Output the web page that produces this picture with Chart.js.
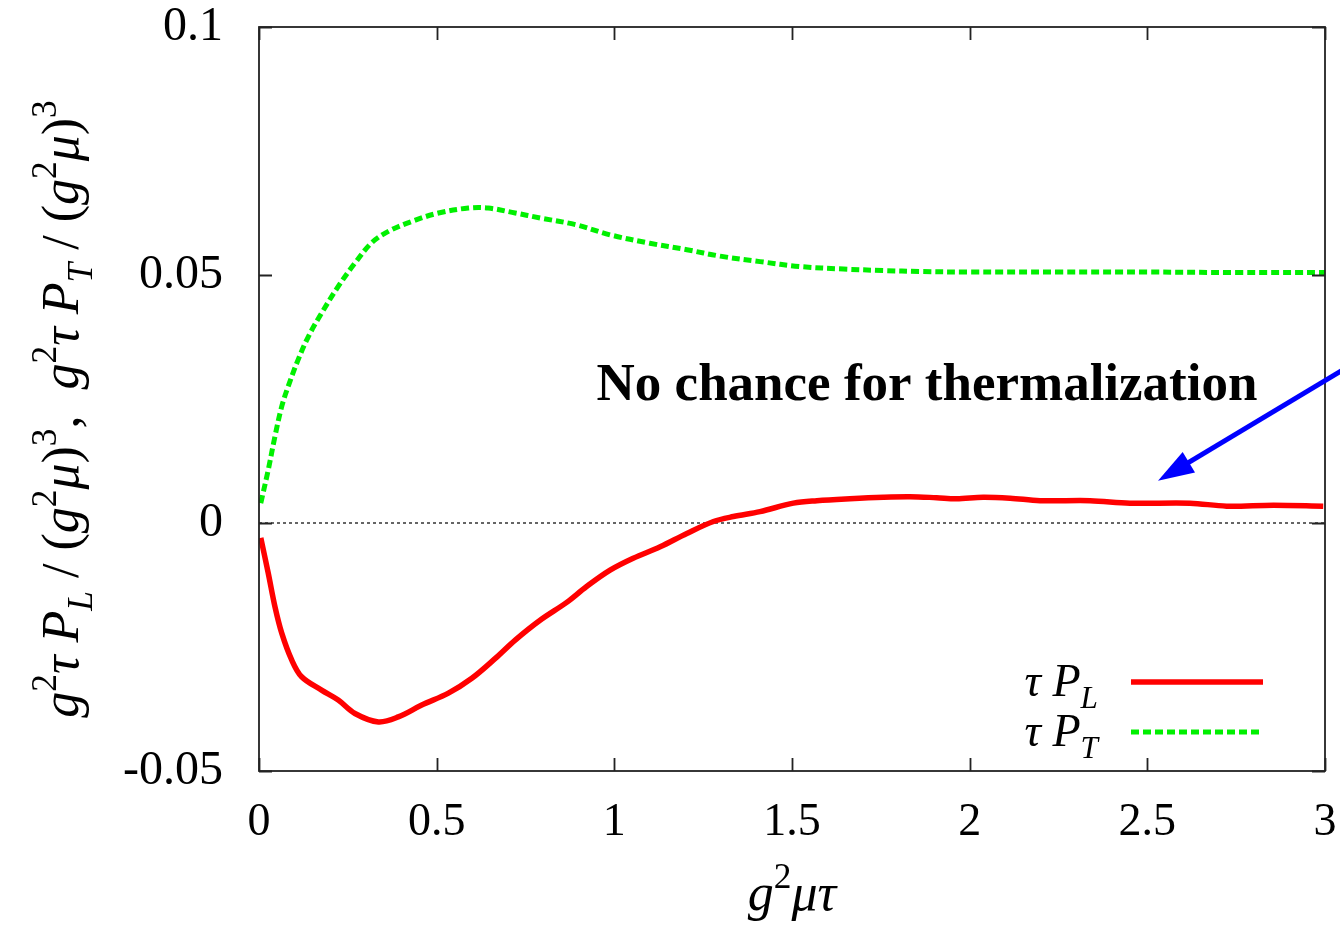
<!DOCTYPE html>
<html>
<head>
<meta charset="utf-8">
<script src="https://cdn.jsdelivr.net/npm/chart.js@4/dist/chart.umd.min.js"></script>
<style>
  html, body { margin: 0; padding: 0; background: #fff; }
  canvas { display: block; }
</style>
</head>
<body>
<canvas id="c" width="1340" height="928"></canvas>
<script>
// Longitudinal pressure  g^2 tau P_L / (g^2 mu)^3
const tauL = [0.005, 0.026, 0.045, 0.064, 0.092, 0.120, 0.176, 0.223, 0.270, 0.336,
              0.392, 0.458, 0.533, 0.599, 0.665, 0.721, 0.791, 0.866, 0.922, 0.988,
              1.053, 1.129, 1.204, 1.279, 1.335, 1.410, 1.504, 1.570, 1.663, 1.757,
              1.832, 1.907, 1.963, 2.038, 2.114, 2.198, 2.339, 2.451, 2.620, 2.723,
              2.855, 2.995];
const pL   = [-0.0030, -0.0101, -0.0169, -0.0222, -0.0276, -0.0310, -0.0337, -0.0357, -0.0384, -0.0401,
              -0.0391, -0.0367, -0.0343, -0.0313, -0.0273, -0.0236, -0.0196, -0.0160, -0.0128, -0.0095,
              -0.0071, -0.0048, -0.0021, 0.0003, 0.0013, 0.0023, 0.0040, 0.0045, 0.0049, 0.0052,
              0.0053, 0.0051, 0.0049, 0.0052, 0.0050, 0.0045, 0.0045, 0.0040, 0.0040, 0.0034,
              0.0036, 0.0034];

// Transverse pressure  g^2 tau P_T / (g^2 mu)^3
const tauT = [0.005, 0.026, 0.045, 0.064, 0.082, 0.110, 0.139, 0.176, 0.223, 0.270,
              0.317, 0.364, 0.430, 0.505, 0.589, 0.645, 0.721, 0.791, 0.894, 0.988,
              1.100, 1.204, 1.298, 1.410, 1.523, 1.645, 1.757, 1.861, 2.000, 2.250,
              2.500, 2.750, 3.000];
const pT   = [0.0040, 0.0107, 0.0175, 0.0235, 0.0275, 0.0329, 0.0376, 0.0423, 0.0477, 0.0524,
              0.0565, 0.0588, 0.0608, 0.0625, 0.0635, 0.0635, 0.0625, 0.0615, 0.0601, 0.0581,
              0.0564, 0.0551, 0.0538, 0.0527, 0.0517, 0.0512, 0.0509, 0.0507, 0.0506, 0.0506,
              0.0506, 0.0505, 0.0505];

// Axis ticks
const xTicks = [0, 0.5, 1, 1.5, 2, 2.5, 3];
const xTickLabels = ['0', '0.5', '1', '1.5', '2', '2.5', '3'];
const yTicks = [-0.05, 0, 0.05, 0.1];
const yTickLabels = ['-0.05', '0', '0.05', '0.1'];

// Annotation text and arrow, in data coordinates
const noteText = 'No chance for thermalization';
const noteAt = { x: 1.88, y: 0.0247 };
const arrowFrom = { x: 3.06, y: 0.0313 };
const arrowTo = { x: 2.53, y: 0.0085 };

const SERIF = '"Liberation Serif", "DejaVu Serif", serif';
const RED = '#ff0000';
const GREEN = '#00f000';

const toPoints = (xs, ys) => xs.map((x, i) => ({ x: x, y: ys[i] }));

// Rich text: parts are [text, style] with style among '', 'i', 'sup', 'sub'
function drawRich(ctx, parts, x, y, size, measureOnly) {
  let cx = x;
  for (const [t, st] of parts) {
    const small = st === 'sup' || st === 'sub';
    const s = small ? size * 0.68 : size;
    const italic = st === 'i' || st === 'sub';
    ctx.font = (italic ? 'italic ' : '') + s + 'px ' + SERIF;
    const dy = st === 'sup' ? -size * 0.42 : st === 'sub' ? size * 0.26 : 0;
    if (!measureOnly) ctx.fillText(t, cx, y + dy);
    cx += ctx.measureText(t).width;
  }
  return cx - x;
}

const yTitle = [
  ['g', 'i'], ['2', 'sup'], ['τ', 'i'], [' ', ''], ['P', 'i'], ['L', 'sub'], [' / (', ''], ['g', 'i'], ['2', 'sup'],
  ['μ', 'i'], [')', ''], ['3', 'sup'], [',  ', ''],
  ['g', 'i'], ['2', 'sup'], ['τ', 'i'], [' ', ''], ['P', 'i'], ['T', 'sub'], [' / (', ''], ['g', 'i'], ['2', 'sup'],
  ['μ', 'i'], [')', ''], ['3', 'sup']
];
const xTitle = [['g', 'i'], ['2', 'sup'], ['μτ', 'i']];
const legendItems = [
  { parts: [['τ', 'i'], [' ', ''], ['P', 'i'], ['L', 'sub']], ds: 0 },
  { parts: [['τ', 'i'], [' ', ''], ['P', 'i'], ['T', 'sub']], ds: 1 }
];

const decorations = {
  id: 'decorations',
  afterDatasetsDraw(chart) {
    const { ctx, chartArea: a, scales } = chart;
    const xs = scales.x, ys = scales.y;
    ctx.save();
    // frame
    ctx.strokeStyle = '#222';
    ctx.lineWidth = 1.8;
    ctx.strokeRect(a.left, a.top, a.right - a.left, a.bottom - a.top);
    // inward tick marks, mirrored on all four sides
    const tl = 13;
    ctx.beginPath();
    xTicks.forEach(v => {
      const px = Math.round(xs.getPixelForValue(v)) + 0.5;
      ctx.moveTo(px, a.bottom); ctx.lineTo(px, a.bottom - tl);
      ctx.moveTo(px, a.top); ctx.lineTo(px, a.top + tl);
    });
    yTicks.forEach(v => {
      const py = Math.round(ys.getPixelForValue(v)) + 0.5;
      ctx.moveTo(a.left, py); ctx.lineTo(a.left + tl, py);
      ctx.moveTo(a.right, py); ctx.lineTo(a.right - tl, py);
    });
    ctx.stroke();

    // legend
    ctx.fillStyle = '#000';
    ctx.textBaseline = 'alphabetic';
    const lx0 = a.right - 194, lx1 = a.right - 62;
    legendItems.forEach((it, k) => {
      const ly = a.bottom - 89 + k * 50;
      const w = drawRich(ctx, it.parts, 0, 0, 46, true);
      drawRich(ctx, it.parts, a.right - 227 - w, ly + 14, 46);
      const ds = chart.data.datasets[it.ds];
      ctx.strokeStyle = ds.borderColor;
      ctx.lineWidth = ds.borderWidth;
      ctx.setLineDash(ds.borderDash || []);
      ctx.beginPath();
      ctx.moveTo(lx0, ly); ctx.lineTo(lx1, ly);
      ctx.stroke();
      ctx.setLineDash([]);
    });
    ctx.restore();
  },
  afterDraw(chart) {
    const { ctx, chartArea: a, scales } = chart;
    const xs = scales.x, ys = scales.y;
    ctx.save();
    ctx.fillStyle = '#000';
    ctx.textBaseline = 'alphabetic';

    // x axis title
    const xw = drawRich(ctx, xTitle, 0, 0, 52, true);
    drawRich(ctx, xTitle, (a.left + a.right) / 2 - xw / 2, 910, 52);

    // y axis title, rotated
    ctx.save();
    ctx.translate(78, (a.top + a.bottom) / 2 + 10);
    ctx.rotate(-Math.PI / 2);
    const yw = drawRich(ctx, yTitle, 0, 0, 52, true);
    drawRich(ctx, yTitle, -yw / 2, 0, 52);
    ctx.restore();

    // annotation text
    ctx.font = 'bold 53px ' + SERIF;
    ctx.textAlign = 'center';
    ctx.fillText(noteText, xs.getPixelForValue(noteAt.x), ys.getPixelForValue(noteAt.y));

    // arrow
    const x0 = xs.getPixelForValue(arrowFrom.x), y0 = ys.getPixelForValue(arrowFrom.y);
    const x1 = xs.getPixelForValue(arrowTo.x), y1 = ys.getPixelForValue(arrowTo.y);
    const ang = Math.atan2(y1 - y0, x1 - x0);
    const hl = 36, hw = 12;
    const bx = x1 - hl * Math.cos(ang), by = y1 - hl * Math.sin(ang);
    ctx.strokeStyle = '#0000ff';
    ctx.fillStyle = '#0000ff';
    ctx.lineWidth = 5;
    ctx.beginPath();
    ctx.moveTo(x0, y0); ctx.lineTo(bx + 4 * Math.cos(ang), by + 4 * Math.sin(ang));
    ctx.stroke();
    ctx.beginPath();
    ctx.moveTo(x1, y1);
    ctx.lineTo(bx + hw * Math.sin(ang), by - hw * Math.cos(ang));
    ctx.lineTo(bx - hw * Math.sin(ang), by + hw * Math.cos(ang));
    ctx.closePath();
    ctx.fill();
    ctx.restore();
  }
};

new Chart(document.getElementById('c'), {
  type: 'line',
  data: {
    datasets: [
      { label: 'τ P_L', data: toPoints(tauL, pL), borderColor: RED, borderWidth: 5.5,
        pointRadius: 0, tension: 0.35, fill: false },
      { label: 'τ P_T', data: toPoints(tauT, pT), borderColor: GREEN, borderWidth: 5,
        borderDash: [8, 4], pointRadius: 0, tension: 0.35, fill: false },
      { label: 'zero', data: toPoints([0, 3], [0, 0]), borderColor: '#000', borderWidth: 1.2,
        borderDash: [3, 3], pointRadius: 0, tension: 0, fill: false }
    ]
  },
  options: {
    responsive: false,
    animation: false,
    events: [],
    layout: { padding: { top: 27, right: 15, left: 0, bottom: 0 } },
    plugins: { legend: { display: false }, tooltip: { enabled: false }, title: { display: false } },
    scales: {
      x: {
        type: 'linear', min: 0, max: 3,
        afterBuildTicks: s => { s.ticks = xTicks.map(v => ({ value: v })); },
        afterFit: s => { s.height = 157; s.paddingLeft = 0; s.paddingRight = 0; },
        ticks: {
          callback: (v, i) => xTickLabels[i], color: '#000', padding: 24,
          maxRotation: 0, autoSkip: false, font: { family: SERIF, size: 46 }
        },
        grid: { display: false, drawTicks: false },
        border: { display: false }
      },
      y: {
        type: 'linear', min: -0.05, max: 0.1,
        afterBuildTicks: s => { s.ticks = yTicks.map(v => ({ value: v })); },
        afterFit: s => { s.width = 259; s.paddingTop = 0; s.paddingBottom = 0; },
        ticks: {
          callback: (v, i) => yTickLabels[i], color: '#000', padding: 36,
          autoSkip: false, font: { family: SERIF, size: 48 }
        },
        grid: { display: false, drawTicks: false },
        border: { display: false }
      }
    }
  },
  plugins: [decorations]
});
</script>
</body>
</html>
